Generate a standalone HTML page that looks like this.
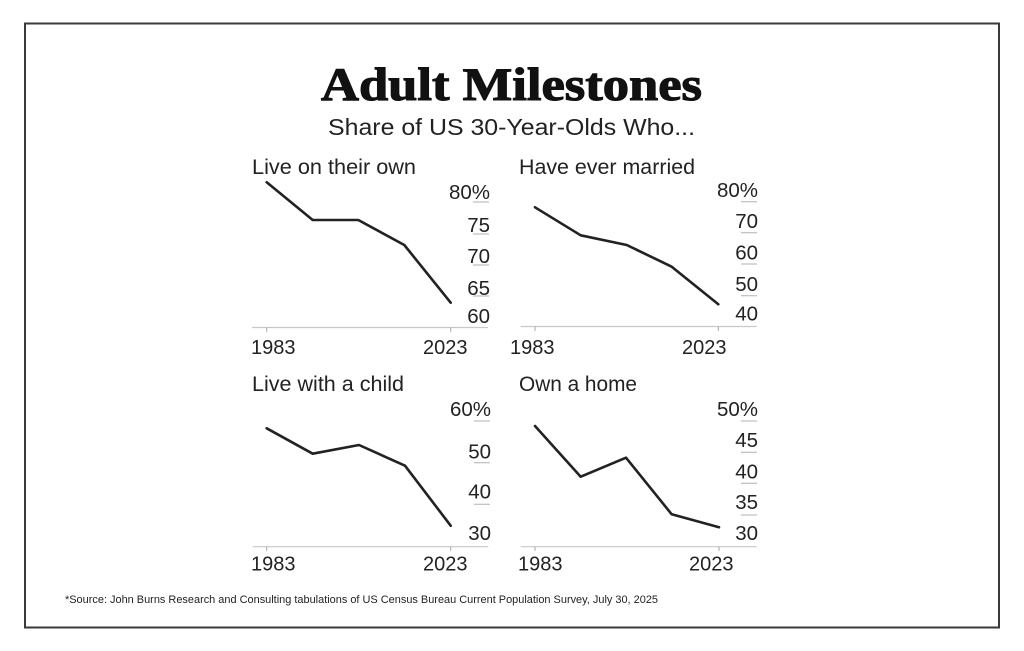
<!DOCTYPE html>
<html>
<head>
<meta charset="utf-8">
<style>
  html,body{margin:0;padding:0;background:#fff;}
  svg{display:block;}
  .t{font-family:"Liberation Sans",sans-serif;fill:#222;}
  .ax{stroke:#c8c8c8;stroke-width:1.2;fill:none;}
  .tk{stroke:#aaa;stroke-width:1;fill:none;}
  .st{stroke:#bdbdbd;stroke-width:1.2;fill:none;}
  .ln{stroke:#222;stroke-width:2.6;fill:none;stroke-linejoin:round;stroke-linecap:round;}
  .yl{font-size:20.5px;text-anchor:end;}
  .xl{font-size:20px;}
  .pt{font-size:21px;}
</style>
</head>
<body>
<svg width="1024" height="651" viewBox="0 0 1024 651" xmlns="http://www.w3.org/2000/svg">
  <rect x="0" y="0" width="1024" height="651" fill="#fff"/>
  <rect x="25" y="23.5" width="974" height="604" fill="none" stroke="#3a3a3a" stroke-width="2"/>

  <text x="321" y="100" font-family="Liberation Serif, serif" font-weight="bold" font-size="47" fill="#111" stroke="#111" stroke-width="1.1" textLength="381" lengthAdjust="spacingAndGlyphs">Adult Milestones</text>
  <text class="t" x="328" y="135" font-size="23" textLength="367" lengthAdjust="spacingAndGlyphs">Share of US 30-Year-Olds Who...</text>

  <!-- Panel 1: Live on their own -->
  <text class="t pt" x="252" y="174" textLength="164" lengthAdjust="spacingAndGlyphs">Live on their own</text>
  <line class="st" x1="473" y1="202" x2="489" y2="202"/>
  <line class="st" x1="473" y1="234" x2="489" y2="234"/>
  <line class="st" x1="473" y1="265" x2="489" y2="265"/>
  <line class="st" x1="473" y1="296" x2="489" y2="296"/>
  <text class="t yl" x="490" y="199">80%</text>
  <text class="t yl" x="490" y="232">75</text>
  <text class="t yl" x="490" y="263">70</text>
  <text class="t yl" x="490" y="295">65</text>
  <text class="t yl" x="490" y="323">60</text>
  <line class="ax" x1="252" y1="327.5" x2="488" y2="327.5"/>
  <line class="tk" x1="266.7" y1="327.5" x2="266.7" y2="332"/>
  <line class="tk" x1="450.7" y1="327.5" x2="450.7" y2="332"/>
  <text class="t xl" x="251" y="354">1983</text>
  <text class="t xl" x="423" y="354">2023</text>
  <polyline class="ln" points="266.7,182.3 312.7,220 358.3,220 404.3,245 450.7,302.7"/>

  <!-- Panel 2: Have ever married -->
  <text class="t pt" x="519" y="174" textLength="176" lengthAdjust="spacingAndGlyphs">Have ever married</text>
  <line class="st" x1="741" y1="201.7" x2="757" y2="201.7"/>
  <line class="st" x1="741" y1="232.7" x2="757" y2="232.7"/>
  <line class="st" x1="741" y1="264" x2="757" y2="264"/>
  <line class="st" x1="741" y1="295.7" x2="757" y2="295.7"/>
  <text class="t yl" x="758" y="197">80%</text>
  <text class="t yl" x="758" y="228">70</text>
  <text class="t yl" x="758" y="259.5">60</text>
  <text class="t yl" x="758" y="291">50</text>
  <text class="t yl" x="758" y="320.5">40</text>
  <line class="ax" x1="520.7" y1="326.5" x2="756.7" y2="326.5"/>
  <line class="tk" x1="535" y1="326.5" x2="535" y2="331"/>
  <line class="tk" x1="718.3" y1="326.5" x2="718.3" y2="331"/>
  <text class="t xl" x="510" y="354">1983</text>
  <text class="t xl" x="682" y="354">2023</text>
  <polyline class="ln" points="535,207.3 580.7,235.3 626.7,245 671.7,266.7 718.3,304.3"/>

  <!-- Panel 3: Live with a child -->
  <text class="t pt" x="252" y="391" textLength="152" lengthAdjust="spacingAndGlyphs">Live with a child</text>
  <line class="st" x1="474" y1="421" x2="490" y2="421"/>
  <line class="st" x1="474" y1="462.7" x2="490" y2="462.7"/>
  <line class="st" x1="474" y1="504.3" x2="490" y2="504.3"/>
  <text class="t yl" x="491" y="416">60%</text>
  <text class="t yl" x="491" y="458.5">50</text>
  <text class="t yl" x="491" y="498.5">40</text>
  <text class="t yl" x="491" y="540">30</text>
  <line class="ax" x1="252.7" y1="546.7" x2="488.3" y2="546.7"/>
  <line class="tk" x1="266.7" y1="546.7" x2="266.7" y2="551"/>
  <line class="tk" x1="450.7" y1="546.7" x2="450.7" y2="551"/>
  <text class="t xl" x="251" y="570.5">1983</text>
  <text class="t xl" x="423" y="570.5">2023</text>
  <polyline class="ln" points="266.7,428.3 312.7,453.7 359,445 405,465.7 450.7,525.7"/>

  <!-- Panel 4: Own a home -->
  <text class="t pt" x="519" y="391" textLength="118" lengthAdjust="spacingAndGlyphs">Own a home</text>
  <line class="st" x1="741" y1="421" x2="757" y2="421"/>
  <line class="st" x1="741" y1="452.3" x2="757" y2="452.3"/>
  <line class="st" x1="741" y1="483.3" x2="757" y2="483.3"/>
  <line class="st" x1="741" y1="515" x2="757" y2="515"/>
  <text class="t yl" x="758" y="416">50%</text>
  <text class="t yl" x="758" y="447">45</text>
  <text class="t yl" x="758" y="478.5">40</text>
  <text class="t yl" x="758" y="509">35</text>
  <text class="t yl" x="758" y="540">30</text>
  <line class="ax" x1="520.7" y1="546.7" x2="756.7" y2="546.7"/>
  <line class="tk" x1="535" y1="546.7" x2="535" y2="551"/>
  <line class="tk" x1="719" y1="546.7" x2="719" y2="551"/>
  <text class="t xl" x="518" y="570.5">1983</text>
  <text class="t xl" x="689" y="570.5">2023</text>
  <polyline class="ln" points="535,426 580.7,476.7 626,457.7 671.7,514.3 719,527.3"/>

  <text class="t" x="65" y="603" font-size="11" textLength="593" lengthAdjust="spacingAndGlyphs">*Source: John Burns Research and Consulting tabulations of US Census Bureau Current Population Survey, July 30, 2025</text>
</svg>
</body>
</html>
